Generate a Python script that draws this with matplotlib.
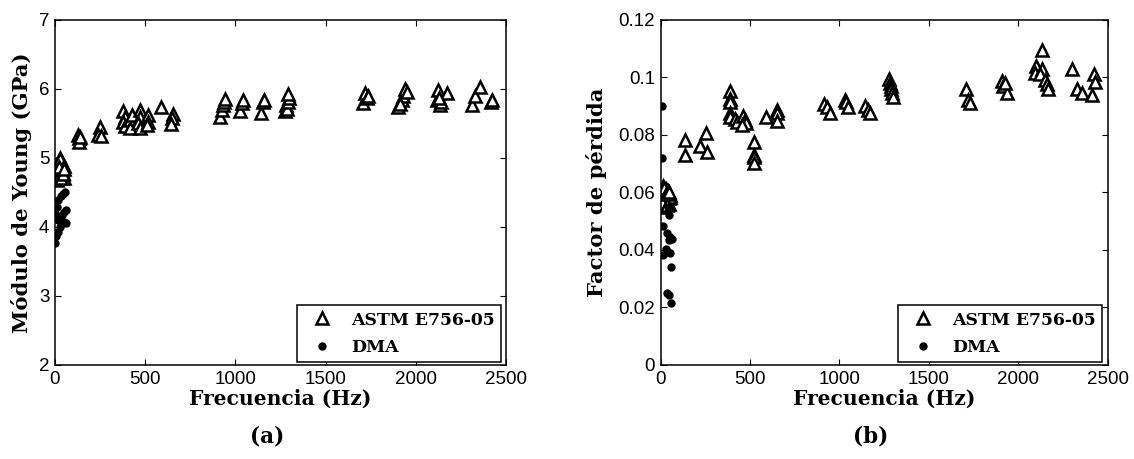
import matplotlib
matplotlib.use("Agg")
import matplotlib.pyplot as plt
from matplotlib.ticker import FuncFormatter

# ---- Modulo de Young (GPa) ----
astm_f_E = [5, 10, 15, 20, 25, 30, 35, 40, 45, 50, 8, 18, 28, 38, 48, 12, 22, 32, 42, 52,
            129, 135, 135, 140, 249, 240, 255,
            379, 388, 379, 388, 416, 416, 425, 471, 471, 462, 471, 517, 517, 508,
            586, 652, 646, 641,
            915, 924, 929, 935, 940, 1025, 1035, 1040, 1142, 1151, 1158,
            1275, 1280, 1285, 1290, 1295, 1290,
            1709, 1718, 1728, 1735, 1903, 1922, 1931, 1940, 1950, 1915,
            2116, 2125, 2134, 2140, 2171, 2130,
            2310, 2328, 2356, 2415, 2421]
astm_E = [4.72, 4.80, 4.88, 4.95, 5.00, 4.75, 4.85, 4.92, 4.78, 4.70, 4.90, 4.74, 4.98, 4.82, 4.88,
          4.68, 4.86, 4.70, 4.76, 4.84,
          5.33, 5.28, 5.23, 5.30, 5.45, 5.33, 5.31,
          5.67, 5.59, 5.52, 5.46, 5.55, 5.43, 5.62, 5.69, 5.59, 5.50, 5.43, 5.62, 5.52, 5.47,
          5.74, 5.63, 5.57, 5.49,
          5.59, 5.69, 5.76, 5.80, 5.85, 5.67, 5.79, 5.83, 5.65, 5.81, 5.83,
          5.67, 5.76, 5.70, 5.80, 5.87, 5.92,
          5.79, 5.93, 5.86, 5.89, 5.74, 5.83, 5.90, 6.00, 5.95, 5.78,
          5.83, 5.98, 5.76, 5.80, 5.93, 5.86,
          5.76, 5.90, 6.03, 5.80, 5.84]

dma_f_E = [0, 0, 0, 9, 18, 31, 46, 55, 18, 28, 37, 50, 61, 18, 37, 50, 61, 5, 28]
dma_E = [3.76, 3.91, 4.20, 4.29, 4.39, 4.44, 4.48, 4.50, 3.93, 4.00, 4.05, 4.07, 4.06,
         4.10, 4.17, 4.22, 4.24, 3.86, 4.12]

# ---- Factor de perdida ----
astm_f_eta = [5, 10, 15, 20, 25, 30, 35, 40, 45, 50, 55, 12, 22, 32, 42, 52, 8, 28, 38, 48,
              139, 139, 221, 256, 262,
              389, 389, 389, 389, 389, 415, 430, 460, 470, 480, 455,
              521, 521, 521, 521, 589, 654, 654, 654,
              916, 930, 947, 1029, 1039, 1049, 1145, 1158, 1172,
              1280, 1283, 1286, 1290, 1294, 1298,
              1709, 1722, 1731, 1908, 1917, 1936, 1927,
              2133, 2100, 2095, 2132, 2122, 2150, 2160, 2169,
              2303, 2328, 2356, 2415, 2424, 2430]
astm_eta = [0.058, 0.060, 0.062, 0.056, 0.059, 0.061, 0.057, 0.060, 0.058, 0.056, 0.059, 0.055, 0.0615,
            0.0575, 0.0605, 0.0585, 0.0565, 0.0595, 0.0555, 0.0600,
            0.0783, 0.0731, 0.0760, 0.0806, 0.0741,
            0.0952, 0.0923, 0.0914, 0.0874, 0.0863, 0.0855, 0.0845, 0.0865, 0.0850, 0.0840, 0.0835,
            0.0774, 0.0731, 0.0723, 0.0703, 0.0863, 0.0886, 0.0877, 0.0846,
            0.0906, 0.0895, 0.0877, 0.0920, 0.0912, 0.0895, 0.0899, 0.0886, 0.0874,
            0.0992, 0.0980, 0.0968, 0.0960, 0.0945, 0.0931,
            0.0960, 0.0922, 0.0910, 0.0985, 0.0968, 0.0945, 0.0980,
            0.1093, 0.1040, 0.1015, 0.1028, 0.1011, 0.0991, 0.0977, 0.0959,
            0.1028, 0.0960, 0.0945, 0.0939, 0.1012, 0.0982]

dma_f_eta = [7, 7, 16, 49, 38, 53, 62, 48, 31, 44, 16, 53, 59, 35, 49, 59, 44]
dma_eta = [0.0898, 0.0718, 0.0483, 0.0522, 0.0458, 0.0446, 0.0438, 0.0435, 0.0402, 0.0391,
           0.0383, 0.0388, 0.0342, 0.0249, 0.0243, 0.0215, 0.0550]

serif_bold = dict(family="DejaVu Serif", weight="bold")
tick_font = "Liberation Sans"

fig = plt.figure(figsize=(11.34, 4.59), dpi=100)
ax1 = fig.add_axes([0.0485, 0.2048, 0.3977, 0.7527])
ax2 = fig.add_axes([0.5825, 0.2048, 0.3942, 0.7527])


def style_axes(ax):
    ax.tick_params(direction="in", top=True, right=True, length=4, width=0.8,
                   labelsize=13.5, pad=4)
    for lbl in ax.get_xticklabels() + ax.get_yticklabels():
        lbl.set_fontfamily(tick_font)
    for sp in ax.spines.values():
        sp.set_linewidth(1.1)


def panel(ax, fa, ya, fd, yd, ylim, yticks, ylabel, tag, ypad):
    ax.plot(fa, ya, linestyle="none", marker="^", ms=8.5, mfc="white", mec="black",
            mew=1.8, label="ASTM E756-05")
    ax.plot(fd, yd, linestyle="none", marker="o", ms=5, mfc="black", mec="black",
            label="DMA")
    ax.set_xlim(0, 2500)
    ax.set_ylim(*ylim)
    ax.set_xticks([0, 500, 1000, 1500, 2000, 2500])
    ax.set_yticks(yticks)
    ax.yaxis.set_major_formatter(FuncFormatter(lambda v, p: "%g" % round(v, 4)))
    style_axes(ax)
    ax.set_xlabel("Frecuencia (Hz)", fontdict=dict(serif_bold, size=14.6), labelpad=1)
    ax.set_ylabel(ylabel, fontdict=dict(serif_bold, size=15.2), labelpad=ypad)
    leg = ax.legend(loc="lower right", bbox_to_anchor=(0.988, 0.009), borderaxespad=0,
                    fancybox=False, framealpha=1, edgecolor="black", handlelength=2.2,
                    handletextpad=0.6, borderpad=0.35, labelspacing=0.6,
                    prop=dict(serif_bold, size=12.4))
    leg.get_frame().set_linewidth(1.1)
    ax.text(0.47, -0.175, tag, transform=ax.transAxes, ha="center", va="top",
            fontdict=dict(serif_bold, size=15.5))


panel(ax1, astm_f_E, astm_E, dma_f_E, dma_E, (2, 7), [2, 3, 4, 5, 6, 7],
      "Módulo de Young (GPa)", "(a)", 5)
panel(ax2, astm_f_eta, astm_eta, dma_f_eta, dma_eta, (0, 0.12),
      [0, 0.02, 0.04, 0.06, 0.08, 0.1, 0.12], "Factor de pérdida", "(b)", 8)

fig.savefig("out.png", dpi=100)
